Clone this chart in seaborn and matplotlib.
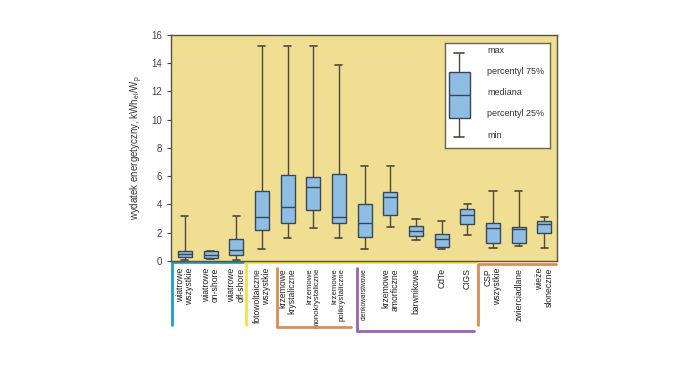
import pandas as pd
import matplotlib.pyplot as plt
import seaborn as sns
from matplotlib.lines import Line2D

sns.set_style("ticks")
plt.rcParams['font.family'] = ['Liberation Sans', 'DejaVu Sans']
plt.rcParams['mathtext.default'] = 'regular'

# Dane (min, Q1, mediana, Q3, max)
labels = ['wiatrowe\nwszystkie', 'wiatrowe\non-shore', 'wiatrowe\noff-shore',
          'fotowoltaiczne\nwszystkie', 'krzemowe\nkrystaliczne', 'krzemowe\nmonokrystaliczne',
          'krzemowe\npolikrystaliczne', 'cienkowarstwowe', 'krzemowe\namorficzne',
          'barwnikowe', 'CdTe', 'CIGS', 'CSP\nwszystkie', 'zwierciadlane', 'wieże\nsłoneczne']
v_min = [0.05, 0.15, 0.05, 0.85, 1.65, 2.3, 1.65, 0.85, 2.4, 1.47, 0.88, 1.85, 0.92, 1.04, 0.92]
v_q1 = [0.25, 0.2, 0.45, 2.2, 2.7, 3.6, 2.65, 1.7, 3.25, 1.75, 1.0, 2.6, 1.28, 1.28, 2.0]
v_med = [0.5, 0.4, 0.8, 3.1, 3.85, 5.25, 3.1, 2.7, 4.55, 2.13, 1.58, 3.22, 2.32, 2.25, 2.6]
v_q3 = [0.68, 0.68, 1.55, 4.97, 6.1, 5.95, 6.15, 4.0, 4.88, 2.5, 1.94, 3.65, 2.65, 2.42, 2.84]
v_max = [3.2, 0.7, 3.2, 15.2, 15.2, 15.2, 13.9, 6.7, 6.7, 2.94, 2.84, 4.03, 4.98, 4.98, 3.1]

legend_vals = [0.105, 0.286, 0.505, 0.724, 0.905]
legend_text = ['max', 'percentyl 75%', 'mediana', 'percentyl 25%', 'min']

rows = []
for i, lab in enumerate(labels):
    for v in (v_min[i], v_q1[i], v_med[i], v_q3[i], v_max[i]):
        rows.append({'kat': lab, 'val': v})
df = pd.DataFrame(rows)

BG = '#f0df93'
BOX = '#8ebee3'
EDGE = '#3a4658'

fig = plt.figure(figsize=(7, 3.67), dpi=100)
ax = fig.add_axes([0.244, 0.289, 0.552, 0.616])
ax.set_facecolor(BG)

box_kw = dict(boxprops=dict(facecolor=BOX, edgecolor=EDGE, linewidth=1),
              medianprops=dict(color=EDGE, linewidth=1),
              whiskerprops=dict(color='#4a4840', linewidth=1),
              capprops=dict(color='#4a4840', linewidth=1.2))
sns.boxplot(data=df, x='kat', y='val', order=labels, whis=(0, 100), width=0.55,
            showfliers=False, ax=ax, **box_kw)

ax.set_xlim(-0.55, 14.5)
ax.set_ylim(0, 16)
ax.set_yticks(range(0, 17, 2))
ax.set_xlabel('')
ax.set_ylabel('wydatek energetyczny, kWh$_{el}$/W$_p$', fontsize=7, color='#333333')
ax.tick_params(axis='y', labelsize=7, length=3, colors='#444444')
ax.tick_params(axis='x', length=0, pad=5)
ax.set_xticks(range(len(labels)))
ax.set_xticklabels(labels, rotation=90, fontsize=6.2, linespacing=1.0, color='#222222')
for t in ax.get_xticklabels():
    t.set_multialignment('right')
    if t.get_text() == 'cienkowarstwowe':
        t.set_fontsize(4.8)
    elif 'monokrystaliczne' in t.get_text() or 'polikrystaliczne' in t.get_text():
        t.set_fontsize(5.6)
for s in ax.spines.values():
    s.set_color('#55533f')
    s.set_linewidth(1)

# Klamry grup pod osią
tr = ax.get_xaxis_transform()
def bracket(xs, ys, color):
    ax.add_line(Line2D(xs, ys, transform=tr, color=color, linewidth=2, clip_on=False))

bracket([2.27, -0.5, -0.5], [-0.006, -0.006, -0.283], '#1b9fc6')
bracket([11.33, 2.38, 2.38], [-0.006, -0.006, -0.283], '#f3e23c')
bracket([3.6, 3.6, 6.45], [-0.031, -0.292, -0.292], '#de8c50')
bracket([6.72, 6.72, 11.25], [-0.031, -0.31, -0.31], '#9b62b3')
bracket([14.45, 11.4, 11.4], [-0.013, -0.013, -0.283], '#de8c50')

# Legenda ze wzorcowym pudełkiem
lax = fig.add_axes([0.636, 0.597, 0.149, 0.286])
lax.set_facecolor('white')
leg_df = pd.DataFrame({'val': legend_vals, 'k': 0})
sns.boxplot(data=leg_df, x='k', y='val', whis=(0, 100), width=0.6, showfliers=False,
            ax=lax, **box_kw)
lax.set_xlim(-0.4, 2.6)
lax.set_ylim(0, 1)
lax.set_xticks([])
lax.set_yticks([])
lax.set_xlabel('')
lax.set_ylabel('')
for s in lax.spines.values():
    s.set_color('#666655')
    s.set_linewidth(1)
for txt, y in zip(legend_text, [0.924, 0.724, 0.524, 0.324, 0.114]):
    lax.text(0.40, y, txt, transform=lax.transAxes, fontsize=6.5, va='center', color='#333333')

fig.savefig('out.png', dpi=100)
